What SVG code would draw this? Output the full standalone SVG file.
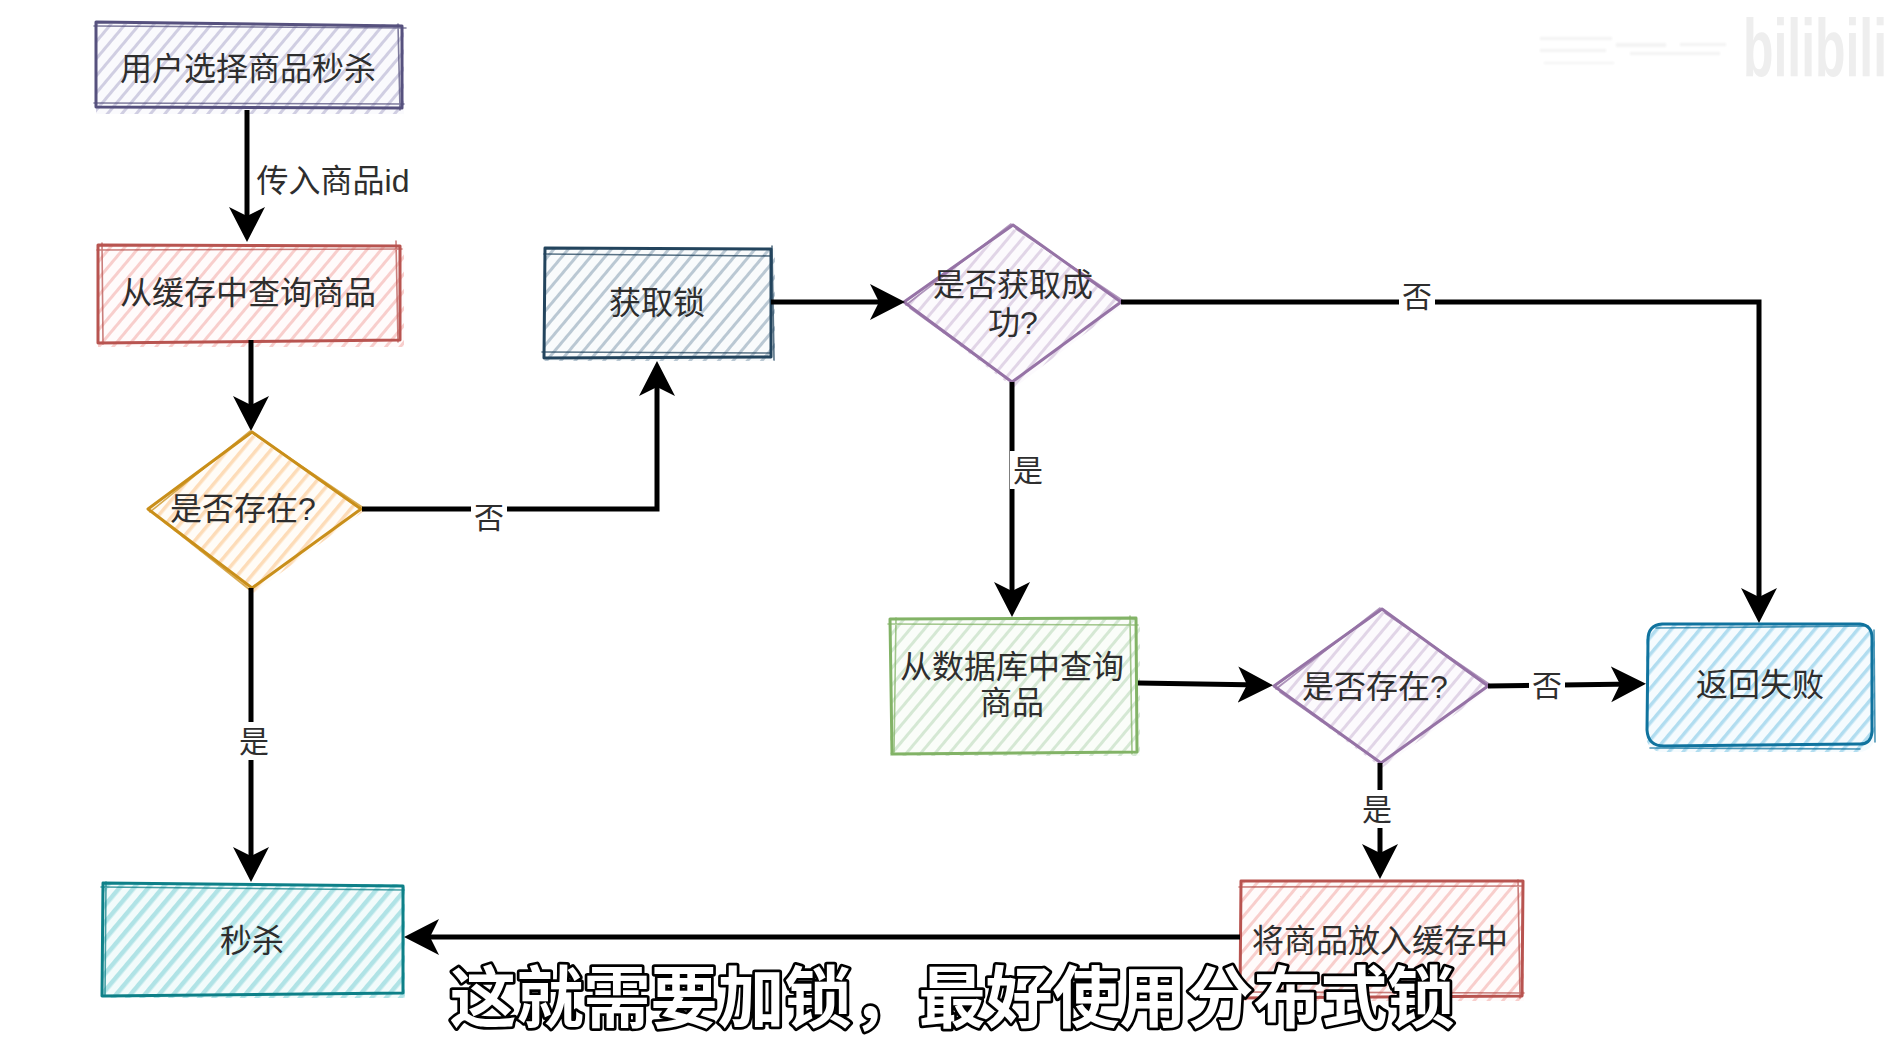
<svg xmlns="http://www.w3.org/2000/svg" width="1894" height="1052" viewBox="0 0 1894 1052">
  <style>
    text { font-family: "Liberation Sans", "Noto Sans CJK SC", sans-serif; }
    .label { font-size: 32px; fill: #2e2e2e; text-anchor: middle; dominant-baseline: central; }
    .edge-label { font-size: 30px; fill: #2e2e2e; text-anchor: middle; dominant-baseline: central; }
    .backing { fill: #ffffff; stroke: none; }
    .outline { fill: none; stroke-width: 3; stroke-linejoin: round; stroke-linecap: round; }
    .thin { fill: none; stroke-width: 1.6; stroke-linecap: round; opacity: 0.75; }
    .link { fill: none; stroke: #000000; stroke-width: 5; marker-end: url(#head); }
    .caption { font-family: "Noto Sans CJK SC", sans-serif; font-size: 67px; font-weight: 700; fill: #ffffff; stroke: #000000; stroke-width: 5.5px; stroke-linejoin: round; paint-order: stroke; text-anchor: middle; dominant-baseline: central; }
    .indigo { stroke: #56517e; } .red { stroke: #b85450; } .amber { stroke: #c98f1a; }
    .slate { stroke: #23445d; } .lilac { stroke: #9673a6; } .green { stroke: #82b366; }
    .blue { stroke: #10739e; } .teal { stroke: #0e8088; }
  </style>
  <defs>
    <marker id="head" markerUnits="userSpaceOnUse" markerWidth="40" markerHeight="42" refX="24" refY="21" orient="auto">
      <path d="M0 3 L35 21 L0 39 L9 21 Z" fill="#000000"/>
    </marker>
    <filter id="soft" x="-5%" y="-20%" width="110%" height="140%"><feGaussianBlur stdDeviation="1"/></filter>
    <pattern id="h-indigo" width="11" height="11" patternUnits="userSpaceOnUse" patternTransform="rotate(40)"><rect width="11" height="11" fill="#fafafd"/><rect width="3" height="11" fill="#d0cee2"/></pattern>
    <pattern id="h-red" width="11" height="11" patternUnits="userSpaceOnUse" patternTransform="rotate(40)"><rect width="11" height="11" fill="#fffbfb"/><rect width="3" height="11" fill="#f8cecc"/></pattern>
    <pattern id="h-amber" width="11" height="11" patternUnits="userSpaceOnUse" patternTransform="rotate(40)"><rect width="11" height="11" fill="#fffcf7"/><rect width="3.5" height="11" fill="#fddcb8"/></pattern>
    <pattern id="h-slate" width="11" height="11" patternUnits="userSpaceOnUse" patternTransform="rotate(40)"><rect width="11" height="11" fill="#f9fbfc"/><rect width="3" height="11" fill="#bac8d3"/></pattern>
    <pattern id="h-lilac" width="11" height="11" patternUnits="userSpaceOnUse" patternTransform="rotate(40)"><rect width="11" height="11" fill="#fcfafd"/><rect width="3" height="11" fill="#e1d5e7"/></pattern>
    <pattern id="h-green" width="11" height="11" patternUnits="userSpaceOnUse" patternTransform="rotate(40)"><rect width="11" height="11" fill="#fafdf9"/><rect width="3" height="11" fill="#d5e8d4"/></pattern>
    <pattern id="h-blue" width="11" height="11" patternUnits="userSpaceOnUse" patternTransform="rotate(40)"><rect width="11" height="11" fill="#f5fbfe"/><rect width="3.5" height="11" fill="#b1ddf0"/></pattern>
    <pattern id="h-teal" width="11" height="11" patternUnits="userSpaceOnUse" patternTransform="rotate(40)"><rect width="11" height="11" fill="#f2fbfb"/><rect width="4.5" height="11" fill="#b0e3e6"/></pattern>
  </defs>

  <rect width="1894" height="1052" fill="#ffffff"/>

  <!-- channel watermark -->
  <g id="watermark">
    <g fill="#f3f3f3" filter="url(#soft)">
      <rect x="1540" y="37" width="72" height="3"/>
      <rect x="1540" y="49" width="66" height="3"/>
      <rect x="1616" y="43" width="50" height="4"/>
      <rect x="1680" y="43" width="46" height="3"/>
      <rect x="1544" y="62" width="70" height="2"/>
      <rect x="1630" y="52" width="90" height="3"/>
    </g>
    <text x="1743" y="76" font-size="82" font-weight="700" fill="#eeeeee" textLength="144" lengthAdjust="spacingAndGlyphs">bilibili</text>
  </g>

  <g id="n-select">
    <rect x="96" y="24" width="308" height="90" fill="url(#h-indigo)"/>
    <path class="outline indigo" d="M96 22 L402 26 L402 108 L96 107 Z"/>
    <path class="thin indigo" d="M94 26 L406 28 M398 24 L400 110 M94 103 L404 104"/>
    <text class="label" x="248" y="69">用户选择商品秒杀</text>
  </g>

  <g id="n-cache">
    <rect x="98" y="245" width="306" height="102" fill="url(#h-red)"/>
    <path class="outline red" d="M98 245 L400 246 L400 340 L98 343 Z"/>
    <path class="thin red" d="M97 250 L402 249 M102 243 L103 344 M396 241 L398 342"/>
    <text class="label" x="248" y="293">从缓存中查询商品</text>
  </g>

  <g id="n-exists">
    <path d="M251 434 L364 511 L254 593 L148 511 Z" fill="url(#h-amber)"/>
    <path class="outline amber" d="M252 432 L361 509 L252 588 L148 509 Z"/>
    <path class="thin amber" d="M150 512 L250 431 M254 434 L362 507 M250 590 L152 512"/>
    <text class="label" x="243" y="509">是否存在?</text>
  </g>

  <g id="n-lock">
    <rect x="544" y="248" width="231" height="113" fill="url(#h-slate)"/>
    <path class="outline slate" d="M545 248 L771 249 L771 357 L544 358 Z"/>
    <path class="thin slate" d="M544 254 L772 256 M772 246 L774 360 M542 352 L770 353"/>
    <text class="label" x="657" y="303">获取锁</text>
  </g>

  <g id="n-acquired">
    <path d="M1012 228 L1124 304 L1014 388 L905 304 Z" fill="url(#h-lilac)"/>
    <path class="outline lilac" d="M1013 225 L1121 302 L1012 382 L904 302 Z"/>
    <path class="thin lilac" d="M906 305 L1011 224 M1016 229 L1122 300 M1009 380 L910 308"/>
    <text class="label" x="1013" y="285">是否获取成</text>
    <text class="label" x="1013" y="323">功?</text>
  </g>

  <g id="n-db">
    <rect x="890" y="618" width="250" height="138" fill="url(#h-green)"/>
    <path class="outline green" d="M890 619 L1136 618 L1137 752 L892 754 Z"/>
    <path class="thin green" d="M888 624 L1138 625 M1130 616 L1132 754 M896 618 L894 752"/>
    <text class="label" x="1012" y="667">从数据库中查询</text>
    <text class="label" x="1012" y="703">商品</text>
  </g>

  <g id="n-exists-db">
    <path d="M1382 611 L1491 688 L1382 768 L1275 688 Z" fill="url(#h-lilac)"/>
    <path class="outline lilac" d="M1382 609 L1488 686 L1381 763 L1274 686 Z"/>
    <path class="thin lilac" d="M1276 689 L1380 608 M1385 613 L1489 684 M1378 761 L1280 692"/>
    <text class="label" x="1375" y="687">是否存在?</text>
  </g>

  <g id="n-fail">
    <rect x="1646" y="623" width="229" height="129" rx="16" fill="url(#h-blue)"/>
    <path class="outline blue" d="M1662 624 L1860 624 Q1872 625 1872 638 L1872 732 Q1871 745 1858 744 L1664 746 Q1648 746 1647 730 L1648 640 Q1648 625 1662 624 Z"/>
    <path class="thin blue" d="M1656 628 L1868 626 M1650 748 L1860 749 M1874 630 L1875 742"/>
    <text class="label" x="1760" y="685">返回失败</text>
  </g>

  <g id="n-store">
    <rect x="1240" y="881" width="284" height="120" fill="url(#h-red)"/>
    <path class="outline red" d="M1241 881 L1523 881 L1522 996 L1240 998 Z"/>
    <path class="thin red" d="M1239 887 L1522 886 M1518 880 L1520 998 M1242 992 L1524 993"/>
    <text class="label" x="1380" y="941">将商品放入缓存中</text>
  </g>

  <g id="n-seckill">
    <rect x="103" y="884" width="302" height="114" fill="url(#h-teal)"/>
    <path class="outline teal" d="M103 883 L403 886 L403 993 L102 996 Z"/>
    <path class="thin teal" d="M101 887 L404 890 M106 882 L105 996"/>
    <text class="label" x="252" y="941">秒杀</text>
  </g>

  <!-- connectors sit above the node fills so they meet the outlines -->
  <g id="connectors">
    <path class="link" d="M247 110 V231"/>
    <path class="link" d="M251 340 V420"/>
    <path class="link" d="M362 509 H657 V372"/>
    <path class="link" d="M251 588 V871"/>
    <path class="link" d="M771 302 H894"/>
    <path class="link" d="M1121 302 H1759 V612"/>
    <path class="link" d="M1012 382 V606"/>
    <path class="link" d="M1138 683 L1262 685"/>
    <path class="link" d="M1488 686 L1635 684"/>
    <path class="link" d="M1380 763 V868"/>
    <path class="link" d="M1240 937 H415"/>
    <g>
      <rect class="backing" x="471" y="498" width="36" height="38"/>
      <text class="edge-label" x="489" y="517">否</text>
      <rect class="backing" x="236" y="722" width="36" height="38"/>
      <text class="edge-label" x="254" y="741">是</text>
      <rect class="backing" x="1399" y="277" width="36" height="38"/>
      <text class="edge-label" x="1417" y="296">否</text>
      <rect class="backing" x="1010" y="451" width="36" height="38"/>
      <text class="edge-label" x="1028" y="470">是</text>
      <rect class="backing" x="1529" y="666" width="36" height="38"/>
      <text class="edge-label" x="1547" y="685">否</text>
      <rect class="backing" x="1359" y="790" width="36" height="38"/>
      <text class="edge-label" x="1377" y="809">是</text>
      <text class="edge-label" x="333" y="181" style="font-size:32px">传入商品id</text>
    </g>
  </g>

  <!-- burned-in subtitle -->
  <text id="subtitle" class="caption" x="952" y="992">这就需要加锁，最好使用分布式锁</text>
</svg>
